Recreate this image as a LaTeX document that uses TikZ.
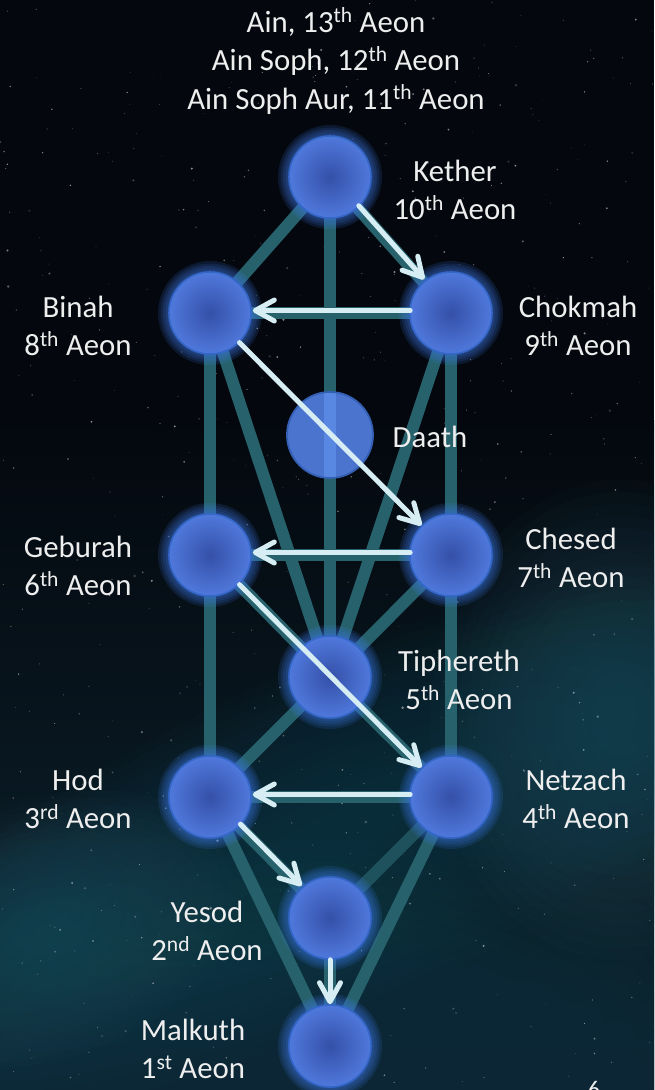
\documentclass[tikz,border=0pt]{standalone}
\usepackage{fontspec}
\setmainfont{Carlito}
\usetikzlibrary{arrows.meta}

% palette
\definecolor{skyc}{HTML}{04080E}
\definecolor{deepc}{HTML}{0C2430}
\definecolor{nebA}{HTML}{2C6676}
\definecolor{nebB}{HTML}{245A6A}
\definecolor{nebC}{HTML}{1A4554}
\definecolor{pathc}{HTML}{27626C}
\definecolor{flashc}{HTML}{D6EEF3}
\definecolor{orbin}{HTML}{3550A8}
\definecolor{orbmid}{HTML}{4E77DA}
\definecolor{orbout}{HTML}{6A9DFF}
\definecolor{orbrim}{HTML}{3567C8}
\definecolor{haloc}{HTML}{3C78E6}
\definecolor{daathc}{HTML}{4B74CF}
\definecolor{daathline}{HTML}{5888E2}
\definecolor{daathrim}{HTML}{3460B4}
\definecolor{labelc}{HTML}{EEEEEE}

% shaded sphere
\pgfdeclareradialshading{orb}{\pgfpointorigin}{color(0bp)=(orbin); color(24bp)=(orbmid); color(45bp)=(orbout); color(50bp)=(orbout)}

\pgfdeclarelayer{skylayer}
\pgfdeclarelayer{pathlayer}
\pgfdeclarelayer{glowlayer}
\pgfdeclarelayer{frontlayer}
\pgfsetlayers{skylayer,pathlayer,glowlayer,main,frontlayer}

\newcommand\ord[1]{\textsuperscript{#1}}
% soft cloud: x, y, x-radius, y-radius, angle, colour, opacity per ring
\newcommand\haze[7]{%
  \foreach \s in {20,...,3}
    \fill[#6, opacity=#7, rotate around={#5:(#1,#2)}] (#1,#2) ellipse ({#3*\s/20} and {#4*\s/20});%
}

\tikzset{
  sephira/.style={circle, minimum size=82pt, inner sep=0pt, shading=orb, draw=orbrim, line width=1.6pt},
  conduit/.style={draw=pathc, line width=12pt},
  flash/.style={draw=flashc, line width=5pt, line cap=round,
    -{Straight Barb[length=19pt, width=21pt, round]}},
  lift/.style={transform canvas={xshift=1pt, yshift=2.5pt}},
  lbl/.style={text=labelc, align=center, inner sep=0pt,
    font=\fontsize{30.8}{37.5}\selectfont},
}

\begin{document}
\begin{tikzpicture}[x=1pt, y=-1pt]
\useasboundingbox (0,0) rectangle (654,1090);

% night sky with nebula and stars
\begin{pgfonlayer}{skylayer}
  \fill[skyc] (0,0) rectangle (654,1090);
  \shade[top color=skyc, bottom color=deepc] (0,420) rectangle (654,1090);
  \haze{330}{1060}{440}{220}{0}{nebC}{0.03}
  \haze{330}{840}{560}{170}{25}{nebB}{0.03}
  \haze{620}{720}{190}{240}{0}{nebA}{0.035}
  \haze{40}{930}{210}{130}{18}{nebA}{0.035}
  \pgfmathsetseed{7}
  \foreach \k in {1,...,560}{
    \pgfmathsetmacro{\sx}{654*rnd}
    \pgfmathsetmacro{\sy}{1090*rnd}
    \pgfmathsetmacro{\sr}{0.4+1.1*rnd*rnd}
    \pgfmathsetmacro{\so}{0.12+0.45*rnd}
    \fill[white, opacity=\so] (\sx,\sy) circle[radius=\sr pt];
  }
\end{pgfonlayer}

% the ten sephiroth
\node[sephira] (kether)    at (330,177) {};
\node[sephira] (chokmah)   at (451,313) {};
\node[sephira] (binah)     at (210,313) {};
\node[circle, minimum size=86pt, inner sep=0pt, fill=daathc, draw=daathrim, line width=1.8pt] (daath) at (330,435) {};
\node[sephira] (chesed)    at (451,555) {};
\node[sephira] (geburah)   at (210,555) {};
\node[sephira] (tiphereth) at (330,677) {};
\node[sephira] (netzach)   at (451,797) {};
\node[sephira] (hod)       at (210,797) {};
\node[sephira] (yesod)     at (330,918) {};
\node[sephira] (malkuth)   at (330,1046) {};

% middle pillar seen through Daath
\begin{scope}
  \clip (daath.center) circle[radius=42pt];
  \fill[daathline] ([xshift=-6pt]daath.north) rectangle ([xshift=6pt]daath.south);
\end{scope}

% paths between the sephiroth
\begin{pgfonlayer}{pathlayer}
  \foreach \a/\b in {kether/binah, kether/chokmah, kether/tiphereth,
      chokmah/binah, chokmah/tiphereth, chokmah/chesed,
      binah/tiphereth, binah/geburah,
      chesed/geburah, chesed/tiphereth, chesed/netzach,
      geburah/tiphereth, geburah/hod,
      tiphereth/netzach, tiphereth/hod,
      netzach/hod, netzach/malkuth,
      hod/yesod, hod/malkuth, yesod/malkuth}
    \draw[conduit] (\a.center) -- (\b.center);
  \draw[conduit, opacity=0.7] (netzach.center) -- (yesod.center);
\end{pgfonlayer}

% halo round each sphere
\begin{pgfonlayer}{glowlayer}
  \foreach \n in {kether,chokmah,binah,chesed,geburah,tiphereth,netzach,hod,yesod,malkuth}
    \foreach \r in {52,49.5,47,44.5,42.5}
      \fill[haloc, opacity=0.15] (\n.center) circle[radius=\r pt];
\end{pgfonlayer}

\begin{pgfonlayer}{frontlayer}
  % lightning flash
  \draw[flash, lift] (kether) -- (chokmah);
  \draw[flash, lift] (chokmah) -- (binah);
  \draw[flash] (binah) -- (chesed);
  \draw[flash, lift] (chesed) -- (geburah);
  \draw[flash] (geburah) -- (netzach);
  \draw[flash, lift] (netzach) -- (hod);
  \draw[flash, lift] (hod) -- (yesod);
  \draw[flash] (yesod) -- (malkuth);

  % labels
  \node[lbl, font=\fontsize{30.8}{38.5}\selectfont] (ain) at (336,61)
    {Ain, 13\ord{th} Aeon\\Ain Soph, 12\ord{th} Aeon\\Ain Soph Aur, 11\ord{th} Aeon};
  \node[lbl] (lkether)    at (455,190) {Kether\\10\ord{th} Aeon};
  \node[lbl] (lbinah)     at (78,326)  {Binah\\8\ord{th} Aeon};
  \node[lbl] (lchokmah)   at (578,326) {Chokmah\\9\ord{th} Aeon};
  \node[lbl] (ldaath)     at (430,437) {Daath};
  \node[lbl] (lgeburah)   at (78,566)  {Geburah\\6\ord{th} Aeon};
  \node[lbl] (lchesed)    at (571,558) {Chesed\\7\ord{th} Aeon};
  \node[lbl] (ltiphereth) at (459,680) {Tiphereth\\5\ord{th} Aeon};
  \node[lbl] (lhod)       at (78,799)  {Hod\\3\ord{rd} Aeon};
  \node[lbl] (lnetzach)   at (576,799) {Netzach\\4\ord{th} Aeon};
  \node[lbl] (lyesod)     at (207,931) {Yesod\\2\ord{nd} Aeon};
  \node[lbl] (lmalkuth)   at (193,1049) {Malkuth\\1\ord{st} Aeon};
  \node[lbl, font=\fontsize{24}{28}\selectfont, anchor=base] (pageno) at (594,1097) {6};
\end{pgfonlayer}
\end{tikzpicture}
\end{document}
